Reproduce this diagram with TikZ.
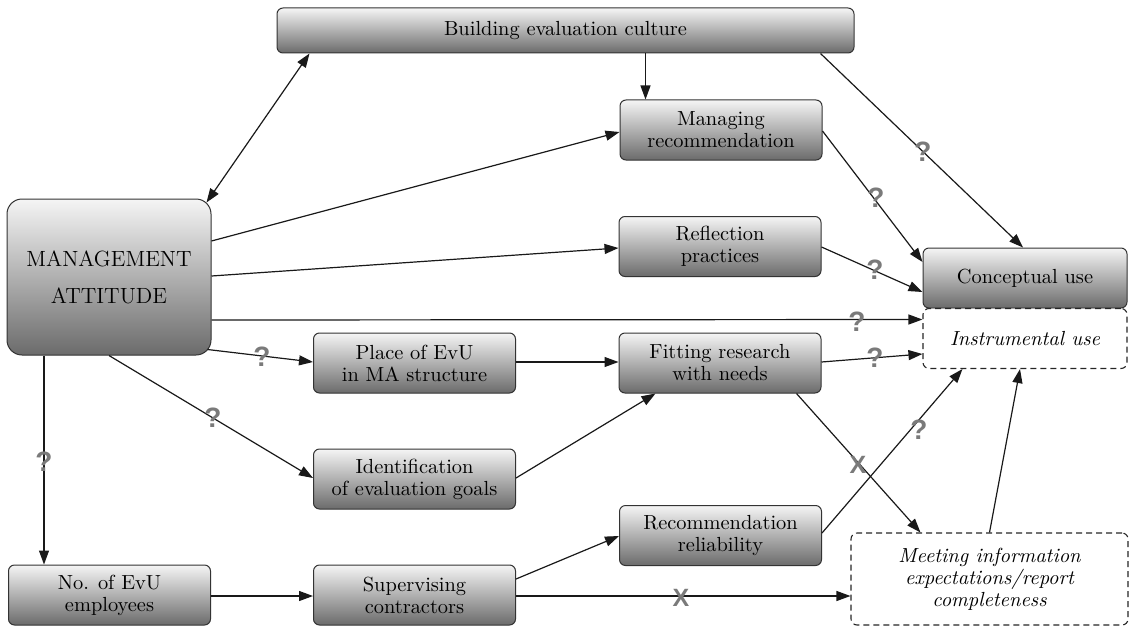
\documentclass[tikz,border=0pt]{standalone}
\usepackage{fontspec}
\newfontfamily\qfont{Liberation Sans}
\usetikzlibrary{arrows.meta,calc}
\begin{document}
\begin{tikzpicture}[x=0.5pt,y=-0.5pt,
  box/.style={draw=black!80, line width=0.5pt, rounded corners=3pt, top color=black!4, bottom color=black!58, align=center, inner sep=0pt, minimum width=101pt, minimum height=30pt, font=\fontsize{10.2}{11}\selectfont, text=black},
  dbox/.style={draw=black!85, line width=0.55pt, dash pattern=on 3pt off 2pt, rounded corners=3pt, fill=white, align=center, inner sep=0pt, font=\fontsize{10.2}{11}\selectfont\itshape, text=black},
  arr/.style={-{Triangle[length=7pt,width=5pt]}, line width=0.6pt, black!90},
  darr/.style={{Triangle[length=7pt,width=5pt]}-{Triangle[length=7pt,width=5pt]}, line width=0.6pt, black!90},
  qm/.style={font=\qfont\bfseries\fontsize{14}{14}\selectfont, text=black!52, inner sep=0pt},
  xm/.style={font=\qfont\bfseries\fontsize{12.5}{12.5}\selectfont, text=black!52, inner sep=0pt}]
\path[use as bounding box] (0,0) rectangle (1133,626);

% nodes
\node[box, minimum width=288.5pt, minimum height=22.5pt] (bec) at (565.5,30.5) {Building evaluation culture};
\node[box] (mr) at (721,130) {Managing\\recommendation};
\node[box] (rp) at (720,246.5) {Reflection\\practices};
\node[box, minimum width=102pt, minimum height=78pt, rounded corners=7.5pt, font=\fontsize{11}{18.5}\selectfont] (ma) at (109,277) {MANAGEMENT\\ATTITUDE};
\node[box, minimum width=102pt] (cu) at (1025,278) {Conceptual use};
\node[dbox, minimum width=102pt, minimum height=30pt] (iu) at (1025,338.5) {Instrumental use};
\node[box] (pl) at (414.5,363) {Place of EvU\\in MA structure};
\node[box] (fr) at (720,363) {Fitting research\\with needs};
\node[box] (id) at (414.5,479) {Identification\\of evaluation goals};
\node[box] (rr) at (720.5,535.5) {Recommendation\\reliability};
\node[box] (no) at (109.5,595) {No. of EvU\\employees};
\node[box] (sc) at (414.5,595) {Supervising\\contractors};
\node[dbox, minimum width=138.5pt, minimum height=46pt] (mi) at (989.5,579) {Meeting information\\expectations/report\\completeness};

% helper coordinates
\coordinate (m2) at ($(mr.north west)+(26,0)$);
\coordinate (n2) at ($(no.north west)+(36,0)$);

% connectors
\draw[darr] ($(bec.south west)+(33,0)$) -- ($(ma.north east)+(-5,4)$);
\draw[arr] (m2 |- bec.south) -- (m2);
\draw[arr] ($(bec.south east)+(-34,0)$) -- ($(cu.north)+(-2,0)$);
\draw[arr] ($(ma.east)+(0,-36)$) -- ($(mr.west)+(0,2)$);
\draw[arr] ($(ma.east)+(0,-1)$) -- ($(rp.west)+(0,1.5)$);
\draw[arr] ($(ma.east)+(0,43)$) -- ($(iu.west)+(0,-19)$);
\draw[arr] ($(ma.south east)+(-4,-6)$) -- ($(pl.west)+(0,-1)$);
\draw[arr] (ma.south) -- ($(id.west)+(0,-1)$);
\draw[arr] (n2 |- ma.south) -- (n2);
\draw[arr] ($(pl.east)+(0,-1)$) -- ($(fr.west)+(0,-1)$);
\draw[arr] ($(id.east)+(0,-1)$) -- ($(fr.south west)+(37,0)$);
\draw[arr] ($(mr.east)+(0,1)$) -- ($(cu.west)+(0,-16)$);
\draw[arr] ($(rp.east)+(0,0.5)$) -- ($(cu.west)+(0,14)$);
\draw[arr] ($(fr.east)+(0,-1)$) -- ($(iu.west)+(0,15.5)$);
\draw[arr] ($(fr.south east)+(-25,0)$) -- ($(mi.north west)+(70,0)$);
\draw[arr] ($(rr.east)+(0,-2.5)$) -- ($(iu.south west)+(40,0)$);
\draw[arr] (mi.north) -- ($(iu.south)+(-5,0)$);
\draw[arr] ($(no.east)+(0,1)$) -- ($(sc.west)+(0,1)$);
\draw[arr] ($(sc.east)+(0,-16)$) -- ($(rr.west)+(0,0.5)$);
\draw[arr] ($(sc.east)+(0,1)$) -- ($(mi.west)+(0,17)$);

% marks
\node[qm] (q1) at (923,152) {?};
\node[qm] (q2) at (876,198) {?};
\node[qm] (q3) at (875,270) {?};
\node[qm] (q4) at (857,322) {?};
\node[qm] (q5) at (875,358) {?};
\node[qm] (q6) at (262,357) {?};
\node[qm] (q7) at (213,418) {?};
\node[qm] (q8) at (44,462) {?};
\node[qm] (q9) at (919,430) {?};
\node[xm] (x1) at (858,465) {X};
\node[xm] (x2) at (681,598) {X};
\end{tikzpicture}
\end{document}
